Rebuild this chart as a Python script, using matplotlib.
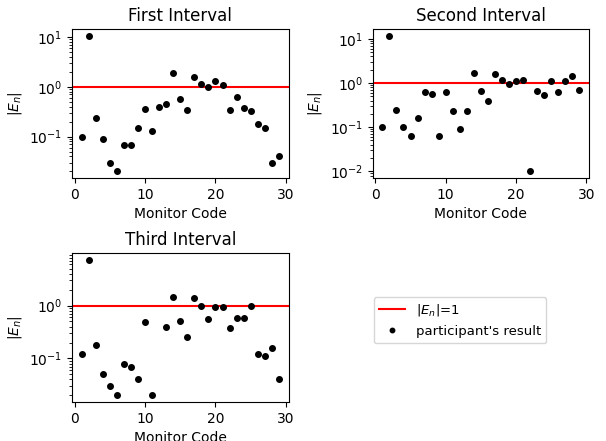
import numpy as np
import matplotlib
matplotlib.use("Agg")
import matplotlib.pyplot as plt

codes = list(range(1, 30))

first_en = [0.10, 10.5, 0.24, 0.089, 0.029, 0.020, 0.068, 0.068, 0.15, 0.355,
            0.13, 0.40, 0.455, 1.88, 0.56, 0.344, 1.59, 1.15, 0.98, 1.32,
            1.06, 0.34, 0.63, 0.38, 0.32, 0.18, 0.15, 0.029, 0.040]

second_en = [0.10, 11.6, 0.25, 0.10, 0.062, 0.16, 0.62, 0.55, 0.062, 0.64,
             0.23, 0.09, 0.23, 1.68, 0.65, 0.40, 1.62, 1.17, 0.95, 1.13,
             1.19, 0.010, 0.67, 0.53, 1.09, 0.64, 1.11, 1.43, 0.71]

# no result for code 12 in the third interval
third_codes = [c for c in codes if c != 12]
third_en = [0.12, 7.3, 0.18, 0.05, 0.03, 0.02, 0.08, 0.07, 0.04, 0.48,
            0.02, 0.40, 1.48, 0.50, 0.25, 1.40, 1.0, 0.55, 0.93,
            0.93, 0.37, 0.57, 0.57, 1.0, 0.12, 0.11, 0.16, 0.04]

fig, axes = plt.subplots(2, 2, figsize=(6.06, 4.41), dpi=100)
fig.subplots_adjust(left=0.119, right=0.972, top=0.934, bottom=0.088,
                    wspace=0.388, hspace=0.503)

for ax, x, y, title in [(axes[0, 0], codes, first_en, "First Interval"),
                        (axes[0, 1], codes, second_en, "Second Interval"),
                        (axes[1, 0], third_codes, third_en, "Third Interval")]:
    ax.axhline(1, color="red", label=r"$|E_n|$=1")
    ax.plot(x, y, "o", ms=4, color="black", label="participant's result")
    ax.set_yscale("log")
    ax.set_title(title)
    ax.set_xlabel("Monitor Code")
    ax.set_ylabel(r"$|E_n|$")
    ax.set_xticks([0, 10, 20, 30])

handles, labels = axes[0, 0].get_legend_handles_labels()
axes[1, 1].axis("off")
fig.legend(handles, labels, loc="center", bbox_to_anchor=(0.759, 0.274),
           fontsize=9.5, markerscale=0.8)

plt.savefig("out.png", dpi=100)
